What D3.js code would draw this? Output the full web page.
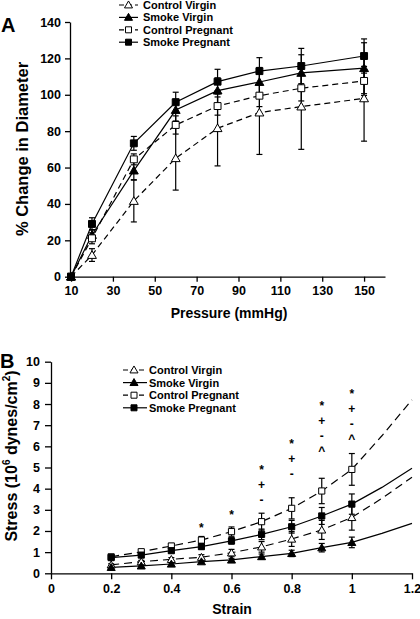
<!DOCTYPE html>
<html><head><meta charset="utf-8">
<script src="https://cdn.jsdelivr.net/npm/d3@7"></script>
<style>
html,body{margin:0;padding:0;background:#fff;}
svg text{font-family:Arial,"Liberation Sans",Helvetica,sans-serif;font-weight:bold;fill:#000;}
</style></head>
<body>
<svg id="chart" width="420" height="619"></svg>
<script>
// ---------- Panel A data ----------
const pressure = [10, 20, 40, 60, 80, 100, 120, 150];
const seriesNames = ["Control Virgin", "Smoke Virgin", "Control Pregnant", "Smoke Pregnant"];
const aControlVirgin   = [0, 11.9, 41.6, 65.1, 81.6, 90.2, 93.5, 98.0];
const aSmokeVirgin     = [0, 22.9, 58.3, 91.6, 102.3, 107.0, 112.0, 114.6];
const aControlPregnant = [0, 21.1, 64.5, 83.4, 93.8, 99.5, 103.6, 107.6];
const aSmokePregnant   = [0, 29.0, 73.3, 95.9, 107.2, 113.0, 115.8, 121.3];
const aErrCV = [0, 3.5, 11.5, 17.5, 20.7, 23, 23.5, 23.5];
const aErrSV = [0, 3.0, 5.0, 6.0, 7.0, 8.0, 10.0, 14.0];
const aErrCP = [0, 3.0, 3.0, 5.0, 5.0, 6.0, 7.0, 8.0];
const aErrSP = [0, 3.4, 3.8, 5.5, 6.8, 7.4, 9.7, 9.4];
const aXTicks = [10, 30, 50, 70, 90, 110, 130, 150];
const aYTicks = [0, 20, 40, 60, 80, 100, 120, 140];

// ---------- Panel B data ----------
const strain = [0.2, 0.3, 0.4, 0.5, 0.6, 0.7, 0.8, 0.9, 1.0];
const bControlVirgin   = [0.40, 0.55, 0.66, 0.76, 0.97, 1.25, 1.62, 2.05, 2.64];
const bSmokeVirgin     = [0.28, 0.35, 0.44, 0.55, 0.63, 0.79, 0.94, 1.21, 1.46];
const bControlPregnant = [0.78, 1.02, 1.29, 1.57, 1.97, 2.44, 3.07, 3.89, 4.91];
const bSmokePregnant   = [0.74, 0.86, 1.07, 1.26, 1.53, 1.84, 2.20, 2.71, 3.27];
const bErrCV = [0.05, 0.06, 0.08, 0.12, 0.16, 0.25, 0.35, 0.45, 0.6];
const bErrSV = [0.04, 0.05, 0.06, 0.07, 0.08, 0.12, 0.15, 0.2, 0.25];
const bErrCP = [0.08, 0.10, 0.12, 0.17, 0.22, 0.40, 0.50, 0.60, 0.75];
const bErrSP = [0.06, 0.08, 0.10, 0.12, 0.15, 0.25, 0.30, 0.40, 0.48];
// extrapolated fit beyond the data
const fitStrain = [1.0, 1.1, 1.2];
const fitCV = [2.64, 3.54, 4.54];
const fitSV = [1.46, 1.89, 2.36];
const fitCP = [4.91, 6.5, 8.2];
const fitSP = [3.27, 4.06, 4.96];
const bXTicks = [0, 0.2, 0.4, 0.6, 0.8, 1, 1.2];
const bYTicks = [0, 1, 2, 3, 4, 5, 6, 7, 8, 9, 10];
// significance markers
const sigStrain = [0.5, 0.6, 0.7, 0.8, 0.9, 1.0];
const sigTop = [2.29, 2.91, 5.01, 6.27, 8.06, 8.62];
const sigSymbols = [["*"], ["*"], ["*", "+", "-"], ["*", "+", "-"], ["*", "+", "-", "^"], ["*", "+", "-", "^"]];

const svg = d3.select("#chart");
const styles = [
  {dash: "5,4", symbol: d3.symbolTriangle, fill: "#fff"},
  {dash: null,  symbol: d3.symbolTriangle, fill: "#000"},
  {dash: "5,4", symbol: d3.symbolSquare,   fill: "#fff"},
  {dash: null,  symbol: d3.symbolSquare,   fill: "#000"}
];

function axisStyle(g) {
  g.selectAll("path.domain").attr("stroke", "#000").attr("stroke-width", 1.3);
  g.selectAll(".tick line").attr("stroke", "#000").attr("stroke-width", 1.3);
  g.selectAll(".tick text").attr("font-size", 12.5).attr("font-weight", "bold")
    .attr("font-family", "Arial, 'Liberation Sans', sans-serif");
}

function drawPanel(cfg) {
  const {x, y, xs, ys, errs, fits, fitX, triSize, sqSize, dash, capW} = cfg;
  const g = svg.append("g");
  ys.forEach((vals, i) => {
    const pts = xs.map((xv, j) => [xv, vals[j]]);
    if (fits) fits[i].forEach((v, j) => { if (j > 0) pts.push([fitX[j], v]); });
    g.append("path").datum(pts)
      .attr("d", d3.line().x(d => x(d[0])).y(d => y(d[1])))
      .attr("fill", "none").attr("stroke", "#000").attr("stroke-width", 1.2)
      .attr("stroke-dasharray", styles[i].dash ? dash : null);
  });
  ys.forEach((vals, i) => {
    xs.forEach((xv, j) => {
      const e = errs[i][j];
      if (!e) return;
      const cx = x(xv), y1 = y(vals[j] - e), y2 = y(vals[j] + e);
      g.append("line").attr("x1", cx).attr("x2", cx).attr("y1", y1).attr("y2", y2)
        .attr("stroke", "#000").attr("stroke-width", 1.2);
      [y1, y2].forEach(yy => g.append("line").attr("x1", cx - capW).attr("x2", cx + capW)
        .attr("y1", yy).attr("y2", yy).attr("stroke", "#000").attr("stroke-width", 1.2));
    });
  });
  ys.forEach((vals, i) => {
    const st = styles[i];
    const sz = st.symbol === d3.symbolSquare ? sqSize : triSize;
    g.selectAll(null).data(xs.map((xv, j) => [xv, vals[j]])).join("path")
      .attr("transform", d => `translate(${x(d[0])},${y(d[1]) + (st.symbol === d3.symbolTriangle ? 0.8 : 0)})`)
      .attr("d", d3.symbol().type(st.symbol).size(sz))
      .attr("fill", st.fill).attr("stroke", "#000").attr("stroke-width", 1);
  });
}

function drawLegend(x0, x1, xm, xt, ys0, dy, triSize, sqSize, dash) {
  const g = svg.append("g");
  seriesNames.forEach((name, i) => {
    const st = styles[i];
    const yy = ys0 + i * dy;
    g.append("line").attr("x1", x0).attr("x2", x1).attr("y1", yy).attr("y2", yy)
      .attr("stroke", "#000").attr("stroke-width", 1.2)
      .attr("stroke-dasharray", st.dash ? dash : null);
    const sz = st.symbol === d3.symbolSquare ? sqSize : triSize;
    g.append("path").attr("transform", `translate(${xm},${yy + (st.symbol === d3.symbolTriangle ? 0.6 : 0)})`)
      .attr("d", d3.symbol().type(st.symbol).size(sz))
      .attr("fill", st.fill).attr("stroke", "#000").attr("stroke-width", 1);
    g.append("text").attr("x", xt).attr("y", yy + 4).attr("font-size", 11).text(name);
  });
}

// ================= Panel A =================
const xA = d3.scaleLinear().domain([9.5, 160]).range([70, 385]);
const yA = d3.scaleLinear().domain([0, 140]).range([276.7, 22]);
svg.append("g").attr("transform", "translate(0,276.7)")
  .call(d3.axisBottom(xA).tickValues(aXTicks).tickSizeOuter(0).tickSizeInner(5).tickPadding(4)).call(axisStyle);
svg.append("g").attr("transform", "translate(70,0)")
  .call(d3.axisLeft(yA).tickValues(aYTicks).tickSizeOuter(0).tickSizeInner(5).tickPadding(4)).call(axisStyle);
drawPanel({x: xA, y: yA, xs: pressure,
  ys: [aControlVirgin, aSmokeVirgin, aControlPregnant, aSmokePregnant],
  errs: [aErrCV, aErrSV, aErrCP, aErrSP], triSize: 34, sqSize: 48, dash: "6,4", capW: 3});
drawLegend(119, 138, 128.5, 143, 5, 12.4, 28, 36, "5,3");
svg.append("text").attr("x", 1).attr("y", 32).attr("font-size", 20).text("A");
svg.append("text").attr("transform", "translate(28,149) rotate(-90)")
  .attr("text-anchor", "middle").attr("font-size", 16.5).text("% Change in Diameter");
svg.append("text").attr("x", 229).attr("y", 318).attr("text-anchor", "middle")
  .attr("font-size", 14).text("Pressure (mmHg)");

// ================= Panel B =================
const xB = d3.scaleLinear().domain([0, 1.2]).range([51, 412]);
const yB = d3.scaleLinear().domain([0, 10]).range([573.3, 361.7]);
svg.append("g").attr("transform", "translate(0,573.3)")
  .call(d3.axisBottom(xB).tickValues(bXTicks).tickFormat(d3.format("~g")).tickSizeOuter(0).tickSizeInner(6).tickPadding(5)).call(axisStyle);
svg.append("g").attr("transform", "translate(51,0)")
  .call(d3.axisLeft(yB).tickValues(bYTicks).tickSizeOuter(0).tickSizeInner(6).tickPadding(5)).call(axisStyle);
drawPanel({x: xB, y: yB, xs: strain,
  ys: [bControlVirgin, bSmokeVirgin, bControlPregnant, bSmokePregnant],
  errs: [bErrCV, bErrSV, bErrCP, bErrSP],
  fits: [fitCV, fitSV, fitCP, fitSP], fitX: fitStrain,
  triSize: 28, sqSize: 38, dash: "8,5", capW: 3});
drawLegend(123, 147, 134, 149, 370, 12.6, 28, 36, "5,3");
sigStrain.forEach((s, i) => {
  sigSymbols[i].forEach((sym, k) => {
    const base = yB(sigTop[i]) + 7 + k * 15;
    svg.append("text").attr("x", xB(s)).attr("y", base).attr("text-anchor", "middle")
      .attr("font-size", 12).text(sym);
  });
});
svg.append("text").attr("x", 0).attr("y", 368).attr("font-size", 20).text("B");
const tB = svg.append("text").attr("transform", "translate(17,456) rotate(-90)")
  .attr("text-anchor", "middle").attr("font-size", 16);
tB.append("tspan").text("Stress (10");
tB.append("tspan").attr("font-size", 10).attr("dy", -7).text("6");
tB.append("tspan").attr("dy", 7).text(" dynes/cm");
tB.append("tspan").attr("font-size", 10).attr("dy", -7).text("2");
tB.append("tspan").attr("dy", 7).text(")");
svg.append("text").attr("x", 232).attr("y", 614).attr("text-anchor", "middle")
  .attr("font-size", 14).text("Strain");
</script>
</body></html>
